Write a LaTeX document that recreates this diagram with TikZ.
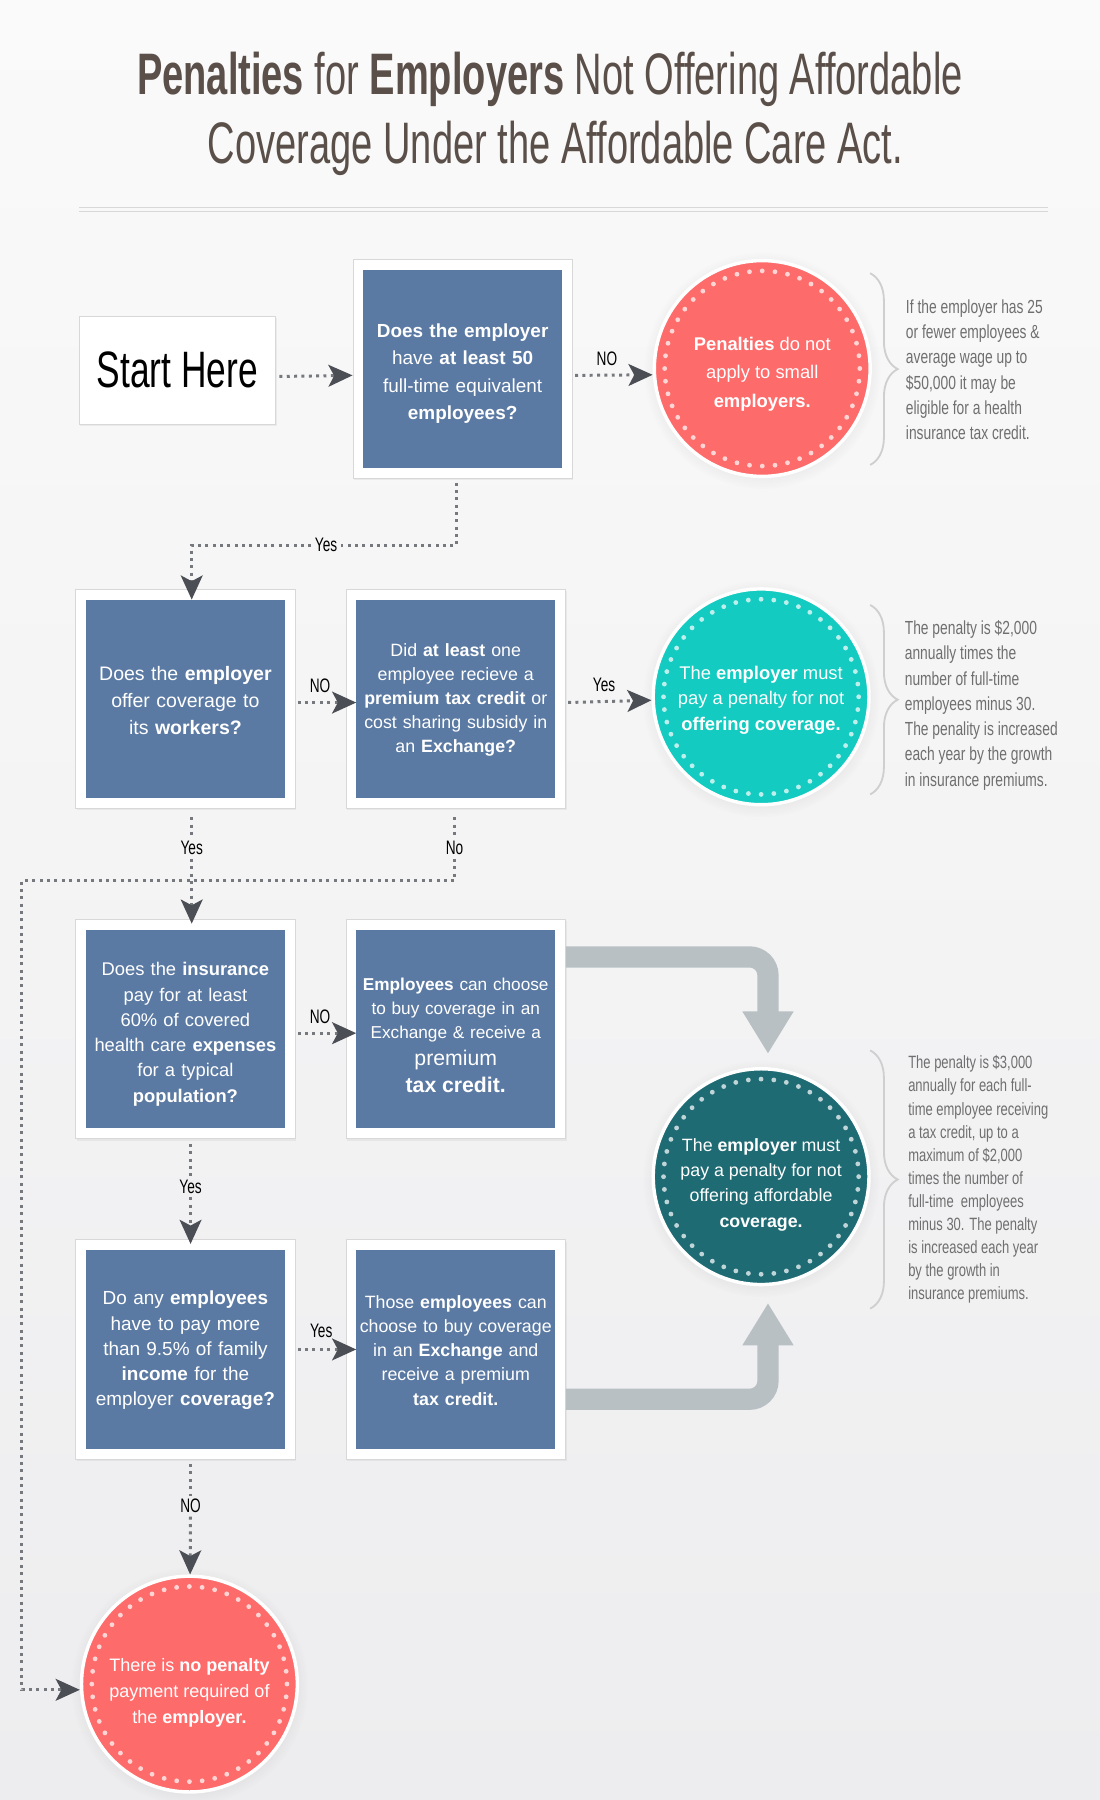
\documentclass[tikz,border=0pt]{standalone}
\usepackage{fontspec}
\setmainfont{Liberation Sans}
\newfontfamily\headfont[FakeStretch=0.65]{Liberation Sans}
\newfontfamily\startfont[FakeStretch=0.69]{Liberation Sans}
\newfontfamily\notefont[FakeStretch=0.73]{Liberation Sans}
\newfontfamily\labfont[FakeStretch=0.7]{Liberation Sans}
\usetikzlibrary{arrows.meta, shadows, decorations.pathreplacing}
\definecolor{boxblue}{HTML}{5B7AA3}
\definecolor{penred}{HTML}{FE6B6B}
\definecolor{penteal}{HTML}{13CBC0}
\definecolor{pendark}{HTML}{1F6B74}
\definecolor{bandgray}{HTML}{B8C0C3}
\definecolor{tipgray}{HTML}{4B4E54}
\definecolor{dotgray}{HTML}{75787D}
\definecolor{framegray}{HTML}{D8D8D8}
\definecolor{titlebrown}{HTML}{5B4F49}
\definecolor{notegray}{HTML}{6F6F6F}
\definecolor{bgtop}{HTML}{FAFAFA}
\definecolor{bgbot}{HTML}{EDEDEF}
\newcommand{\fs}[2]{\fontsize{#1}{#2}\selectfont}
\newcommand{\dropline}[1]{\rule{0pt}{#1}}

\begin{document}
\begin{tikzpicture}[x=1pt, y=-1pt,
  frame/.style={fill=white, draw=framegray, line width=0.8pt,
    minimum width=191pt, minimum height=191pt,
    drop shadow={opacity=0.10, shadow xshift=1pt, shadow yshift=-1.5pt}},
  qbox/.style={fill=boxblue, minimum width=173pt, minimum height=173pt,
    inner sep=0pt, text=white, align=center, text width=170pt},
  result/.style={circle, minimum size=188pt, inner sep=0pt, draw=white,
    line width=3pt, text=white, align=center,
    circular drop shadow={opacity=0.12, shadow xshift=0pt, shadow yshift=-1.5pt}},
  dotring/.style={draw=white, draw opacity=0.72, line width=4.2pt, line cap=round,
    dash pattern=on 0pt off 11.126pt},
  dotline/.style={draw=dotgray, line width=2.6pt, dash pattern=on 2.6pt off 3.8pt,
    -{Stealth[length=21pt, width=19pt, inset=5pt, color=tipgray]}},
  plainline/.style={draw=dotgray, line width=2.6pt, dash pattern=on 2.6pt off 3.8pt},
  bigarrow/.style={draw=bandgray, line width=18.5pt, rounded corners=16pt,
    -{Triangle[length=37pt, width=42pt]}},
  lab/.style={font=\labfont\fs{17}{17}, text=black, inner sep=3pt},
  note/.style={font=\notefont\fs{16.5}{22}, text=notegray, align=left, anchor=west, inner sep=0pt},
  notebrace/.style={draw=framegray!90!gray, line width=1.6pt,
    decorate, decoration={brace, amplitude=24pt}}]

  \useasboundingbox (0,0) rectangle (958,1568);
  \fill[top color=bgtop, bottom color=bgbot] (0,0) rectangle (958,1568);

  % heading
  \node[font=\headfont\fs{51}{60}, text=titlebrown, anchor=base, inner sep=0pt] (title1) at (479,82)
    {\textbf{Penalties} for \textbf{Employers} Not Offering Affordable};
  \node[font=\headfont\fs{51}{60}, text=titlebrown, anchor=base, inner sep=0pt] (title2) at (484,142)
    {Coverage Under the Affordable Care Act.};
  \draw[framegray, line width=1.2pt] (69,180.5) -- (913,180.5);
  \draw[framegray, line width=1.2pt] (69,184.5) -- (913,184.5);

  % side notes
  \draw[notebrace] (758,238) -- (758,405);
  \draw[notebrace] (758,527) -- (758,692);
  \draw[notebrace] (758,915) -- (758,1140);
  \node[note] (note1) at (789,322) {If the employer has 25\\ or fewer employees \&\\ average wage up to\\
    \$50,000 it may be\\ eligible for a health\\ insurance tax credit.};
  \node[note] (note2) at (788,614.5) {The penalty is \$2,000\\ annually times the\\ number of full-time\\
    employees minus 30.\\ The penality is increased\\ each year by the growth\\ in insurance premiums.};
  \node[note, font=\notefont\fs{15.5}{20.1}] (note3) at (791,1027.5) {The penalty is \$3,000\\
    annually for each full-\\ time employee receiving\\ a tax credit, up to a\\ maximum of \$2,000\\
    times the number of\\ full-time\ \ employees\\ minus 30. The penalty\\ is increased each year\\
    by the growth in\\ insurance premiums.};

  % result circles
  \node[result, fill=penred, font=\fs{16}{24.5}] (c1) at (664,321)
    {\dropline{21.5pt}\textbf{Penalties} do not\\ apply to small\\ \textbf{employers.}};
  \node[result, fill=penteal, font=\fs{16}{22.5}] (c2) at (663,607)
    {\dropline{17.5pt}The \textbf{employer} must\\ pay a penalty for not\\ \textbf{offering coverage.}};
  \node[result, fill=pendark, font=\fs{15.5}{22}] (c3) at (663,1025)
    {\dropline{25pt}The \textbf{employer} must\\ pay a penalty for not\\ offering affordable\\ \textbf{coverage.}};
  \node[result, fill=penred, font=\fs{15.7}{22.5}] (c4) at (165,1467)
    {\dropline{27pt}There is \textbf{no penalty}\\ payment required of\\ the \textbf{employer.}};
  \foreach \c in {c1,c2,c3,c4}
    \draw[dotring] (\c) circle[radius=85];

  % gray arrows into c3
  \coordinate (g1) at (669,918);
  \coordinate (g2) at (669,1135);

  % question boxes
  \node[frame, minimum width=171pt, minimum height=94pt, font=\startfont\fs{44.6}{50}] (start) at (154.5,322.5) {Start Here};
  \node[frame] (f1) at (403,321.5) {};
  \node[qbox, font=\fs{16.5}{23.7}] (q1) at (f1)
    {\dropline{20pt}\textbf{Does the employer}\\ have \textbf{at least 50}\\ full-time equivalent\\ \textbf{employees?}};
  \node[frame] (fA) at (161.5,609) {};
  \node[qbox, font=\fs{17}{23.5}] (qA) at (fA)
    {\dropline{14pt}Does the \textbf{employer}\\ offer coverage to\\ its \textbf{workers?}};
  \node[frame] (fB) at (397,609) {};
  \node[qbox, font=\fs{15.5}{21}] (qB) at (fB)
    {\dropline{13pt}Did \textbf{at least} one\\ employee recieve a\\ \textbf{premium tax credit} or\\ cost sharing subsidy in\\ an \textbf{Exchange?}};
  \node[frame] (fC) at (161.5,896.5) {};
  \node[qbox, font=\fs{16}{22}] (qC) at (fC)
    {\dropline{20.5pt}Does the \textbf{insurance}\\ pay for at least\\ 60\% of covered\\ health care \textbf{expenses}\\ for a typical\\ \textbf{population?}};
  \node[frame] (fD) at (397,896.5) {};
  \node[qbox, font=\fs{15}{21}] (qD) at (fD)
    {\dropline{22pt}\textbf{Employees} can choose\\ to buy coverage in an\\ Exchange \& receive a\\[2pt]
     {\fs{18.5}{24}premium}\\[3pt] {\fs{18.5}{24}\textbf{tax credit.}}};
  \node[frame] (fE) at (161.5,1175.5) {};
  \node[qbox, font=\fs{16.5}{22}] (qE) at (fE)
    {\dropline{14pt}Do any \textbf{employees}\\ have to pay more\\ than 9.5\% of family\\ \textbf{income} for the\\ employer \textbf{coverage?}};
  \node[frame] (fF) at (397,1175.5) {};
  \node[qbox, font=\fs{15.5}{21}] (qF) at (fF)
    {\dropline{13pt}Those \textbf{employees} can\\ choose to buy coverage\\ in an \textbf{Exchange} and\\ receive a premium\\ \textbf{tax credit.}};

  \draw[bigarrow] ([yshift=-33pt]fD.north east) -| (g1);
  \draw[bigarrow] ([yshift=52.5pt]fF.south east) -| (g2);

  % labels on the vertical runs
  \node[lab] (lYes1) at (284,475) {Yes};
  \node[lab] (lYesA) at (167,739) {Yes};
  \node[lab] (lNoB) at (396,739) {No};
  \node[lab] (lYesC) at (166,1034) {Yes};
  \node[lab] (lNoE) at (166,1312) {NO};
  \coordinate (turnA) at (19,767);
  \coordinate (turnB) at (19,1472);

  \path
    ([yshift=-5.5pt]start.east) edge[dotline, shorten <=3pt] ([yshift=-5.5pt]f1.west)
    ([yshift=-5.5pt]f1.east) edge[dotline, shorten <=2pt] node[lab, above=4pt, xshift=-5pt] {NO} ([yshift=-5.5pt]c1.west)
    ([yshift=-3pt]fA.east) edge[dotline, shorten <=2pt] node[lab, above=4pt, xshift=-5pt] {NO} ([yshift=-3pt]qB.west)
    ([yshift=-3pt]fB.east) edge[dotline, shorten <=2pt] node[lab, above=4pt, xshift=-4pt] {Yes} ([yshift=-3pt]c2.west)
    ([yshift=-3.5pt]fC.east) edge[dotline, shorten <=2pt] node[lab, above=4pt, xshift=-5pt] {NO} ([yshift=-3.5pt]qD.west)
    (fE.east) edge[dotline, shorten <=2pt] node[lab, above=6pt, xshift=-4pt] {Yes} (qF.west);

  \draw[plainline, shorten <=3pt] ([xshift=-5pt]f1.south) |- (lYes1);
  \draw[dotline] (lYes1) -| ([xshift=5.5pt]qA.north);
  \draw[plainline, shorten <=7pt] (fA.south -| lYesA) -- (lYesA);
  \draw[dotline, shorten >=-4pt] (lYesA) -- (lYesA |- fC.north);
  \draw[plainline, shorten <=7pt] (fB.south -| lNoB) -- (lNoB);
  \draw[dotline] (lNoB) |- (turnA) -- (turnB) -- (turnB -| c4.west);
  \draw[plainline, shorten <=4pt] (fC.south -| lYesC) -- (lYesC);
  \draw[dotline, shorten >=-4pt] (lYesC) -- (lYesC |- fE.north);
  \draw[plainline, shorten <=4pt] (fE.south -| lNoE) -- (lNoE);
  \draw[dotline] (lNoE) -- (c4);
\end{tikzpicture}
\end{document}
